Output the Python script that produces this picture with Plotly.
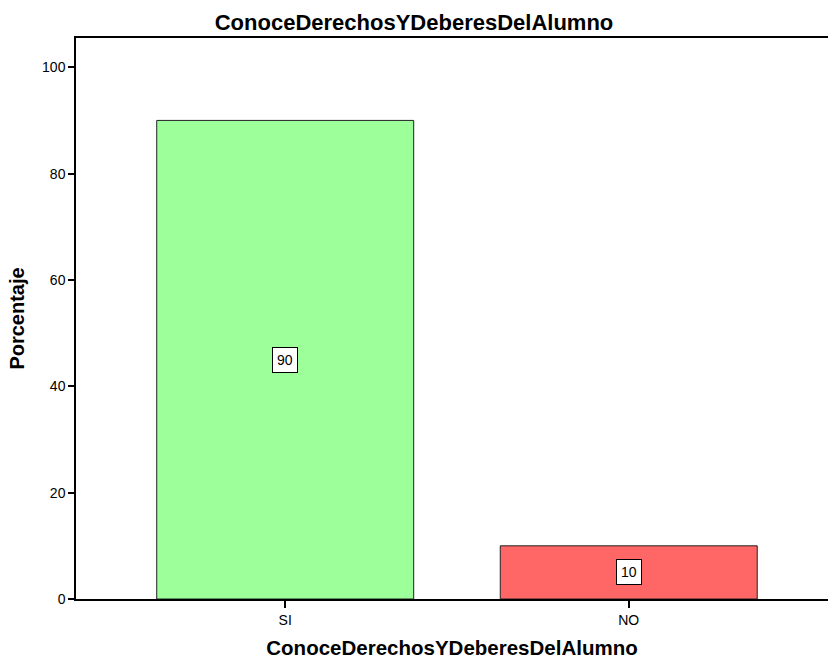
import plotly.graph_objects as go

categories = ["SI", "NO"]
values = [90, 10]
colors = ["#9cff9a", "#ff6666"]
y_ticks = [0, 20, 40, 60, 80, 100]

FONT = "Liberation Sans, Arial"

fig = go.Figure()
fig.add_trace(go.Bar(
    x=categories, y=values, width=0.748,
    marker=dict(color=colors, line=dict(color="#222222", width=1)),
    hoverinfo="skip",
))

for c, v in zip(categories, values):
    fig.add_annotation(x=c, y=v / 2, text=str(v), showarrow=False,
                       font=dict(family=FONT, size=14, color="black"),
                       bgcolor="white", bordercolor="black", borderwidth=1, borderpad=4)

fig.update_layout(
    width=828, height=659,
    margin=dict(l=76, r=0, t=38, b=60),
    paper_bgcolor="white", plot_bgcolor="white",
    showlegend=False,
    font=dict(family=FONT, color="black"),
    title=dict(text="<b>ConoceDerechosYDeberesDelAlumno</b>", x=0.5, xanchor="center",
               y=1 - 22 / 659, yanchor="middle", font=dict(size=22)),
)
fig.update_xaxes(
    range=[-0.609, 1.58], showgrid=False, showline=True, linecolor="black", linewidth=1.5,
    mirror=True, ticks="outside", ticklen=7, tickcolor="black", tickwidth=1.5,
    tickfont=dict(size=14),
    title=dict(text="<b>ConoceDerechosYDeberesDelAlumno</b>", font=dict(size=20.5), standoff=15),
)
fig.update_yaxes(
    range=[0, 105.5], tickvals=y_ticks, showgrid=False, zeroline=False,
    showline=True, linecolor="black", linewidth=1.5,
    ticks="outside", ticklen=6, tickcolor="black", tickwidth=1.5,
    tickfont=dict(size=14),
    title=dict(text="<b>Porcentaje</b>", font=dict(size=20), standoff=12),
)

fig.write_html("out.html", config={"displayModeBar": False},
               post_script="document.body.style.margin='0px';document.body.style.overflow='hidden';")
